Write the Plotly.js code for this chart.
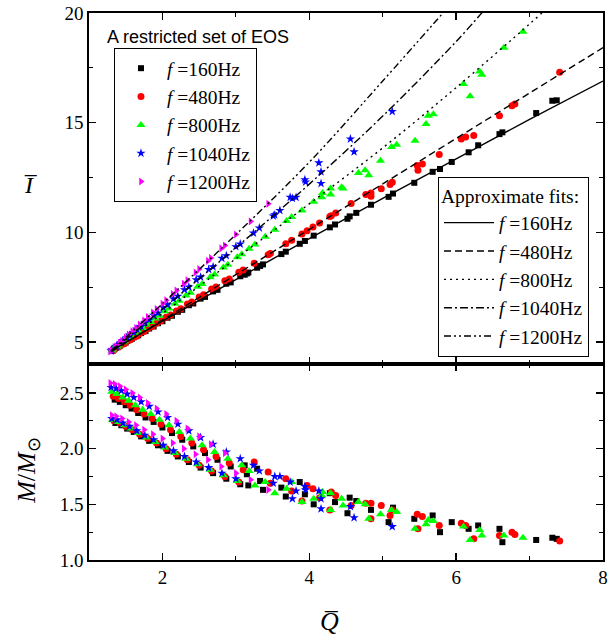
<!DOCTYPE html>
<html>
<head>
<meta charset="utf-8">
<script src="https://cdn.plot.ly/plotly-3.0.1.min.js"></script>
<style>html,body{margin:0;padding:0;background:#fff;}#chart{width:614px;height:639px;}</style>
</head>
<body>
<div id="chart"></div>
<script>
// ---- Data ----
const freqLabels = ["160Hz", "480Hz", "800Hz", "1040Hz", "1200Hz"];

// f = 160 Hz
const q160 = [1.35,1.42,1.50,1.58,1.67,1.77,1.88,2.00,2.13,2.27,2.42,2.58,2.75,2.93,
  1.36,1.44,1.52,1.61,1.71,1.82,1.94,2.07,2.21,2.36,2.52,2.69,2.87,3.06,
  3.12,3.15,3.17,3.29,3.33,3.37,3.62,3.68,3.87,3.94,4.06,4.28,4.35,4.52,4.55,4.64,4.84,5.08,5.14,5.43,5.68,5.78,5.94,6.17,6.30,6.59,6.63,7.09,7.31,7.37];
const m160 = [2.44,2.42,2.39,2.36,2.32,2.28,2.24,2.19,2.14,2.08,2.02,1.96,1.90,1.84,
  2.23,2.21,2.18,2.15,2.11,2.07,2.03,1.98,1.93,1.88,1.83,1.78,1.73,1.68,
  1.85,1.77,1.67,1.82,1.71,1.63,1.65,1.57,1.70,1.59,1.50,1.60,1.52,1.42,1.56,1.53,1.45,1.34,1.47,1.37,1.40,1.25,1.34,1.28,1.31,1.28,1.16,1.18,1.20,1.19];
const i160 = [4.70,4.83,4.98,5.14,5.31,5.50,5.71,5.95,6.20,6.47,6.76,7.06,7.38,7.72,
  4.74,4.89,5.05,5.22,5.41,5.62,5.86,6.11,6.38,6.68,6.98,7.31,7.66,8.00,
  8.07,8.13,8.17,8.39,8.47,8.54,9.01,9.12,9.48,9.61,9.85,10.23,10.36,10.62,10.73,10.89,11.26,11.62,11.77,12.26,12.76,12.89,13.21,13.65,13.97,14.48,14.56,15.44,16.00,16.02];

// f = 480 Hz
const q480 = [1.33,1.40,1.48,1.56,1.65,1.75,1.86,1.98,2.11,2.25,2.40,2.56,2.73,2.91,3.10,
  1.34,1.42,1.50,1.59,1.69,1.80,1.92,2.05,2.19,2.34,2.50,2.67,2.85,3.04,
  3.25,3.44,3.47,3.68,3.76,3.90,3.97,4.05,4.14,4.28,4.30,4.36,4.57,4.77,4.84,4.84,4.98,5.10,5.13,5.47,5.48,5.54,5.77,6.07,6.13,6.24,6.59,6.76,6.80,7.41];
const m480 = [2.47,2.45,2.42,2.39,2.35,2.31,2.27,2.22,2.17,2.11,2.05,1.99,1.93,1.87,1.81,
  2.25,2.23,2.20,2.17,2.13,2.09,2.05,2.00,1.95,1.90,1.85,1.80,1.75,1.70,
  1.88,1.79,1.69,1.73,1.62,1.53,1.67,1.64,1.56,1.45,1.61,1.58,1.49,1.51,1.51,1.37,1.49,1.40,1.45,1.41,1.28,1.39,1.31,1.33,1.31,1.19,1.22,1.25,1.23,1.17];
const i480 = [4.61,4.76,4.92,5.09,5.27,5.48,5.71,5.96,6.23,6.52,6.83,7.16,7.51,7.88,8.28,
  4.65,4.82,4.99,5.18,5.39,5.62,5.86,6.13,6.42,6.73,7.06,7.42,7.79,8.18,
  8.59,8.98,9.04,9.48,9.64,9.93,10.08,10.24,10.43,10.72,10.76,10.88,11.32,11.73,11.65,11.80,11.99,12.18,12.29,13.05,12.83,13.12,13.55,14.26,14.35,14.42,15.32,15.77,15.85,17.30];

// f = 800 Hz
const q800 = [1.31,1.38,1.46,1.54,1.63,1.73,1.84,1.96,2.09,2.23,2.38,2.54,2.71,2.89,3.08,
  1.32,1.40,1.48,1.57,1.67,1.78,1.90,2.03,2.17,2.32,2.48,2.65,2.83,3.02,
  3.18,3.26,3.40,3.53,3.69,3.76,3.90,4.06,4.17,4.18,4.29,4.29,4.44,4.46,4.67,4.76,4.81,4.97,5.12,5.19,5.44,5.59,5.62,5.69,6.10,6.19,6.32,6.35,6.65,6.91];
const m800 = [2.51,2.49,2.46,2.43,2.39,2.35,2.31,2.26,2.21,2.15,2.09,2.03,1.97,1.91,1.85,
  2.26,2.24,2.21,2.18,2.14,2.10,2.06,2.01,1.96,1.91,1.86,1.81,1.76,1.71,
  1.80,1.67,1.70,1.60,1.64,1.70,1.52,1.55,1.58,1.61,1.60,1.45,1.55,1.49,1.52,1.50,1.37,1.41,1.45,1.43,1.28,1.32,1.36,1.35,1.30,1.18,1.27,1.22,1.22,1.20];
const i800 = [4.62,4.79,4.99,5.18,5.40,5.64,5.91,6.20,6.53,6.88,7.25,7.65,8.08,8.53,9.00,
  4.67,4.86,5.06,5.28,5.52,5.79,6.08,6.40,6.75,7.12,7.52,7.95,8.40,8.87,
  9.25,9.45,9.80,10.12,10.52,10.70,11.00,11.40,11.60,11.80,11.73,12.00,12.06,12.00,12.71,12.83,12.60,13.27,13.89,14.00,14.18,14.94,15.32,15.39,16.76,16.20,17.33,17.18,18.42,19.15];

// f = 1040 Hz
const q1040 = [1.30,1.37,1.44,1.52,1.61,1.71,1.82,1.94,2.07,2.21,2.36,2.52,2.69,2.87,3.06,3.24,
  1.31,1.38,1.46,1.55,1.65,1.76,1.88,2.01,2.15,2.30,2.46,2.63,2.81,3.00,
  3.32,3.51,3.53,3.60,3.74,3.77,3.82,3.94,3.95,4.13,4.16,4.16,4.56,4.61,5.13];
const m1040 = [2.55,2.54,2.52,2.49,2.46,2.42,2.38,2.33,2.28,2.22,2.16,2.10,2.04,1.97,1.91,1.85,
  2.27,2.26,2.23,2.20,2.16,2.12,2.08,2.03,1.98,1.93,1.88,1.83,1.78,1.73,
  1.80,1.69,1.75,1.75,1.70,1.55,1.62,1.66,1.63,1.62,1.55,1.46,1.48,1.38,1.30];
const i1040 = [4.60,4.79,4.98,5.20,5.44,5.71,6.01,6.33,6.70,7.09,7.51,7.96,8.43,8.94,9.47,9.97,
  4.66,4.85,5.07,5.32,5.59,5.90,6.22,6.58,6.97,7.39,7.84,8.31,8.82,9.35,
  10.20,10.75,10.80,11.00,11.60,11.55,11.60,12.40,12.30,13.17,12.76,12.23,14.26,13.67,15.51];

// f = 1200 Hz
const q1200 = [1.29,1.35,1.42,1.50,1.59,1.69,1.80,1.92,2.05,2.19,2.34,2.50,2.66,
  1.31,1.37,1.45,1.54,1.64,1.75,1.87,2.00,2.14,2.29,2.45,2.62,2.80,3.00,
  2.85,3.20,3.44];
const m1200 = [2.59,2.58,2.56,2.53,2.50,2.46,2.41,2.36,2.31,2.25,2.18,2.11,2.04,
  2.30,2.29,2.27,2.24,2.21,2.17,2.13,2.09,2.05,2.00,1.95,1.90,1.84,1.78,
  1.96,1.72,1.63];
const i1200 = [4.57,4.75,4.97,5.21,5.49,5.80,6.14,6.51,6.91,7.35,7.82,8.33,8.83,
  4.63,4.81,5.06,5.34,5.64,5.98,6.35,6.75,7.19,7.66,8.17,8.70,9.27,9.90,
  9.40,10.50,11.30];

// Approximate fit curves
const fitQ160 = [1.3,2,3,4,5,6,7,8];
const fitI160 = [4.6,5.95,7.85,9.72,11.55,13.35,15.15,16.9];
const fitQ480 = [1.3,2,3,4,5,6,7,8];
const fitI480 = [4.55,6.0,8.07,10.14,12.21,14.28,16.35,18.42];
const fitQ800 = [1.3,2,3,4,5,6,7,7.3];
const fitI800 = [4.6,6.3,8.8,11.3,13.85,16.6,19.5,20.4];
const fitQ1040 = [1.3,2,3,4,5,6,6.4];
const fitI1040 = [4.6,6.5,9.3,12.2,15.3,18.7,20.2];
const fitQ1200 = [1.3,2,3,4,5,5.9];
const fitI1200 = [4.6,6.75,9.9,13.2,16.9,20.3];

// ---- Styling ----
const series = [
  {q:q160,  I:i160,  M:m160,  color:'#000000', symbol:'square',         size:6},
  {q:q480,  I:i480,  M:m480,  color:'#ff0000', symbol:'circle',         size:7},
  {q:q800,  I:i800,  M:m800,  color:'#00ff00', symbol:'triangle-up',    size:8},
  {q:q1040, I:i1040, M:m1040, color:'#0000ff', symbol:'star',           size:7},
  {q:q1200, I:i1200, M:m1200, color:'#ff00ff', symbol:'triangle-right', size:7}
];
const fits = [
  {q:fitQ160,  I:fitI160,  dash:'solid'},
  {q:fitQ480,  I:fitI480,  dash:'7px,4px'},
  {q:fitQ800,  I:fitI800,  dash:'2px,4px'},
  {q:fitQ1040, I:fitI1040, dash:'8px,3px,2px,3px'},
  {q:fitQ1200, I:fitI1200, dash:'7px,3px,2px,3px,2px,3px'}
];

const traces = [];
series.forEach((s, k) => {
  traces.push({
    type:'scatter', mode:'markers', x:s.q, y:s.I, xaxis:'x2', yaxis:'y2',
    name:'<i>f</i> =' + freqLabels[k], legend:'legend',
    marker:{color:s.color, symbol:s.symbol, size:s.size, line:{width:0}},
    hoverinfo:'skip'
  });
});
series.forEach((s, k) => {
  traces.push({
    type:'scatter', mode:'markers', x:s.q, y:s.M, xaxis:'x', yaxis:'y',
    showlegend:false,
    marker:{color:s.color, symbol:s.symbol, size:s.size, line:{width:0}},
    hoverinfo:'skip'
  });
});
fits.forEach((f, k) => {
  traces.push({
    type:'scatter', mode:'lines', x:f.q, y:f.I, xaxis:'x2', yaxis:'y2',
    name:'<i>f</i> =' + freqLabels[k], legend:'legend2',
    line:{color:'#000', width:1.4, dash:f.dash, shape:'spline'},
    hoverinfo:'skip'
  });
});

const serif = 'Liberation Serif, Times New Roman, serif';
const axisCommon = {
  showline:true, linecolor:'#000', linewidth:1.6, mirror:'ticks',
  ticks:'inside', ticklen:7, tickwidth:1.4, tickcolor:'#000',
  showgrid:false, zeroline:false,
  tickfont:{family:serif, size:19, color:'#000'},
  minor:{ticks:'inside', ticklen:4, tickwidth:1.2, tickcolor:'#000', showgrid:false}
};
const split = 0.3583;

const layout = {
  width:614, height:639,
  margin:{l:89, r:11, t:13, b:79},
  paper_bgcolor:'#fff', plot_bgcolor:'#fff',
  font:{family:serif, color:'#000'},
  xaxis: Object.assign({}, axisCommon, {range:[1,8], dtick:2, tick0:0, anchor:'y', domain:[0,1], minor:Object.assign({}, axisCommon.minor, {dtick:1})}),
  yaxis: Object.assign({}, axisCommon, {range:[1.0,2.76], dtick:0.5, tick0:0, tickformat:'.1f', domain:[0,split], anchor:'x', minor:Object.assign({}, axisCommon.minor, {dtick:0.25})}),
  xaxis2: Object.assign({}, axisCommon, {range:[1,8], dtick:2, tick0:0, anchor:'y2', matches:'x', showticklabels:false, minor:Object.assign({}, axisCommon.minor, {dtick:1})}),
  yaxis2: Object.assign({}, axisCommon, {range:[4,20], dtick:5, tick0:0, domain:[split,1], anchor:'x2', minor:Object.assign({}, axisCommon.minor, {dtick:2.5})}),
  showlegend:true,
  legend:{x:0.0486, y:0.936, xanchor:'left', yanchor:'top', bgcolor:'#fff', bordercolor:'#000', borderwidth:1,
    font:{family:serif, size:19.5, color:'#000'}, itemwidth:42, tracegroupgap:0},
  legend2:{x:0.679, y:0.70, xanchor:'left', yanchor:'top', bgcolor:'#fff', bordercolor:'#000', borderwidth:1,
    font:{family:serif, size:19.5, color:'#000'}, itemwidth:50, tracegroupgap:0,
    title:{text:'Approximate fits:', font:{family:serif, size:19.5, color:'#000'}}},
  annotations:[
    {text:'A restricted set of EOS', xref:'paper', yref:'paper', x:0.031, y:0.956, xanchor:'left', yanchor:'middle',
     showarrow:false, font:{family:'Liberation Sans, Arial, sans-serif', size:18, color:'#000'}},
    {text:'<i>I\u0305</i>', xref:'paper', yref:'paper', x:-0.113, y:0.6856, xanchor:'center', yanchor:'middle',
     showarrow:false, font:{family:serif, size:24, color:'#000'}},
    {text:'<i>M</i>/<i>M</i><sub>⊙</sub>', xref:'paper', yref:'paper', x:-0.119, y:0.1645, xanchor:'center', yanchor:'middle',
     textangle:-90, showarrow:false, font:{family:serif, size:26, color:'#000'}},
    {text:'<i>Q\u0305</i>', xref:'paper', yref:'paper', x:0.467, y:-0.113, xanchor:'center', yanchor:'middle',
     showarrow:false, font:{family:serif, size:26, color:'#000'}}
  ]
};

Plotly.newPlot('chart', traces, layout, {displayModeBar:false, staticPlot:true});
</script>
</body>
</html>
